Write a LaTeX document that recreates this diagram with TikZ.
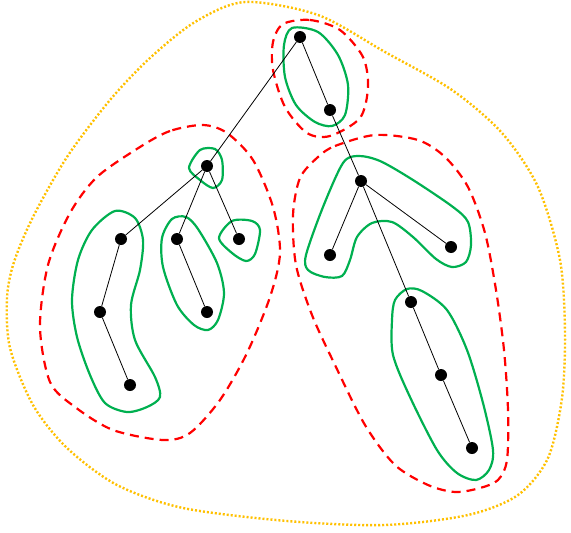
\documentclass[tikz,border=0pt]{standalone}
\usepackage{tikz}
\usetikzlibrary{positioning}
\definecolor{blobgreen}{RGB}{0,176,80}
\definecolor{blobred}{RGB}{255,0,0}
\definecolor{bloborange}{RGB}{255,192,0}
\tikzset{
  vtx/.style={circle, fill=black, inner sep=0pt, minimum size=12pt},
  edg/.style={draw=black, line width=0.8pt},
  path/.style={draw=blobgreen, line width=2.2pt},
  clus/.style={draw=blobred, line width=2.2pt, dash pattern=on 9pt off 6pt},
  hull/.style={draw=bloborange, line width=2.4pt, dash pattern=on 2pt off 2pt}
}

\begin{document}
\begin{tikzpicture}[x=1pt, y=-1pt]
  \useasboundingbox (0,0) rectangle (571,533);
  % outer hull
  \draw[hull] plot[smooth cycle] coordinates {(245,2) (318,15) (385,52) (452,90) (502,133) (538,187)
    (560,260) (565,332) (562,398) (548,458) (518,495) (468,515) (385,525) (287,521) (183,508)
    (117,485) (67,448) (33,405) (10,348) (7,298) (14,262) (33,217) (67,157) (110,100) (150,58) (195,22)};
  % clusters
  \draw[clus] plot[smooth cycle] coordinates {(283,24) (310,20) (340,30) (363,57) (368,87) (360,118)
    (330,136) (307,133) (285,107) (273,70) (273,42)};
  \draw[clus] plot[smooth cycle] coordinates {(203,125) (170,131) (140,147) (97,177) (70,213) (48,265)
    (40,327) (50,382) (75,407) (113,430) (163,440) (190,433) (220,400) (247,353) (270,297)
    (280,253) (273,207) (253,160) (227,133)};
  \draw[clus] plot[smooth cycle] coordinates {(318,157) (335,146) (375,135) (418,140) (445,157) (468,187)
    (485,233) (496,290) (504,350) (508,410) (507,460) (498,480) (480,488) (455,492) (428,485)
    (395,465) (365,425) (335,365) (312,315) (296,265) (293,215) (300,178)};
  % paths
  \draw[path] plot[smooth cycle] coordinates {(292,28) (318,32) (338,55) (348,85) (345,115) (332,126)
    (315,122) (296,105) (285,77) (284,45)};
  \draw[path] plot[smooth cycle] coordinates {(200,150) (215,149) (222,160) (222,180) (213,188)
    (200,180) (189,168)};
  \draw[path] plot[smooth cycle] coordinates {(219,238) (232,221) (252,221) (260,230) (255,254)
    (246,261) (232,253)};
  \draw[path] plot[smooth cycle] coordinates {(162,238) (172,219) (186,217) (198,229) (217,263)
    (224,293) (218,320) (208,330) (194,325) (177,305) (163,267)};
  \draw[path] plot[smooth cycle] coordinates {(72,300) (78,260) (92,230) (115,211) (135,218) (143,240)
    (140,270) (131,305) (135,340) (155,377) (160,397) (147,407) (127,412) (105,403) (90,375) (77,337)};
  \draw[path] plot[smooth cycle] coordinates {(306,255) (323,207) (343,163) (358,156) (380,161) (413,180)
    (453,207) (468,222) (471,245) (466,262) (452,267) (436,259) (413,237) (392,222) (372,223)
    (357,237) (350,260) (342,276) (325,277) (308,270)};
  \draw[path] plot[smooth cycle] coordinates {(392,320) (395,300) (407,289) (422,291) (447,310) (467,350)
    (483,403) (493,450) (489,470) (476,480) (457,473) (437,450) (410,397) (393,355)};
  % vertices
  \node[vtx] (root) at (300,37) {};
  \node[vtx] (a) at (330,110) {};
  \node[vtx] (b) at (207,166) {};
  \node[vtx] (c) at (361,181) {};
  \node[vtx] (b1) at (121,239) {};
  \node[vtx] (b2) at (177,239) {};
  \node[vtx] (b3) at (239,239) {};
  \node[vtx] (b11) at (100,312) {};
  \node[vtx] (b111) at (130,385) {};
  \node[vtx] (b21) at (207,312) {};
  \node[vtx] (c1) at (330,255) {};
  \node[vtx] (c2) at (451,247) {};
  \node[vtx] (c3) at (411,302) {};
  \node[vtx] (c31) at (441,375) {};
  \node[vtx] (c311) at (472,448) {};
  % tree edges
  \draw[edg] (root) -- (a);
  \draw[edg] (root) -- (b);
  \draw[edg] (a) -- (c);
  \draw[edg] (b) -- (b1);
  \draw[edg] (b) -- (b2);
  \draw[edg] (b) -- (b3);
  \draw[edg] (b1) -- (b11);
  \draw[edg] (b11) -- (b111);
  \draw[edg] (b2) -- (b21);
  \draw[edg] (c) -- (c1);
  \draw[edg] (c) -- (c2);
  \draw[edg] (c) -- (c3);
  \draw[edg] (c3) -- (c31);
  \draw[edg] (c31) -- (c311);
\end{tikzpicture}
\end{document}
